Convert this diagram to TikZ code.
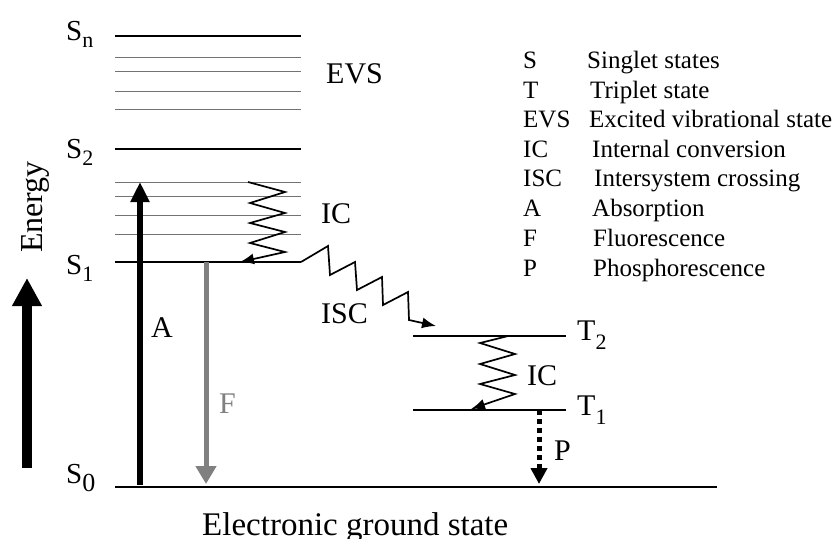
\documentclass[tikz,border=0pt]{standalone}
\usepackage{fontspec}
\setmainfont{Liberation Serif}
\usetikzlibrary{arrows.meta}
\newcommand\mysub[2]{\raisebox{-#2}{\fontsize{22}{22}\selectfont #1}}
\begin{document}
\begin{tikzpicture}[x=1pt,y=-1pt,
  lvl/.style={line width=1.7pt,black},
  sublvl/.style={line width=1pt,black!55},
  lbl/.style={inner sep=0pt,anchor=base west,font=\fontsize{30}{36}\selectfont},
  slbl/.style={inner sep=0pt,anchor=base west,font=\fontsize{29}{34}\selectfont},
  leg/.style={inner sep=0pt,anchor=base west,font=\fontsize{25}{30}\selectfont},
  zig/.style={line width=1.7pt,line join=miter,-{Latex[length=14pt,width=11pt]}},
]
\useasboundingbox (0,0) rectangle (834,538);

% ---- singlet levels
\draw[lvl] (115,36) -- (301,36);
\foreach \y in {57,71,91,109,182,196,215,234}
  \draw[sublvl] (115,\y) -- (301,\y);
\draw[lvl] (115,149) -- (301,149);
\coordinate (s1L) at (115,262);
\coordinate (s1R) at (301,262);
\draw[lvl] (s1L) -- (s1R);
\draw[lvl] (115,487) -- (717,487);
% ---- triplet levels
\draw[lvl] (413,336) -- (566,336);
\draw[lvl] (413,410) -- (566,410);

% ---- level labels
\node[slbl] (Sn) at (66,40) {S\mysub{n}{7pt}};
\node[slbl] (S2) at (66,158) {S\mysub{2}{7pt}};
\node[slbl] (S1) at (66,274) {S\mysub{1}{7pt}};
\node[slbl] (S0) at (66,483) {S\raisebox{-8pt}{\fontsize{26}{26}\selectfont 0}};
\node[lbl] (T2) at (577,340) {T\mysub{2}{9pt}};
\node[lbl] (T1) at (577,415) {T\mysub{1}{9pt}};

% ---- process labels
\node[lbl] (evs) at (326,83) {EVS};
\node[lbl] (ic1) at (321,223) {IC};
\node[lbl] (isc) at (321,323) {ISC};
\node[lbl] (A) at (151,337) {A};
\node[lbl,text=black!50] (F) at (219,413) {F};
\node[lbl] (ic2) at (527,385) {IC};
\node[lbl] (P) at (554,460) {P};
\node[inner sep=0pt,anchor=base west,font=\fontsize{33}{38}\selectfont] (egs) at (202,535) {Electronic ground state};
\node[inner sep=0pt,anchor=base,rotate=90,font=\fontsize{32}{38}\selectfont] (energy) at (42,207) {Energy};

% ---- energy arrow
\coordinate (eTail) at (27,468);
\coordinate (eTip) at (27,278);
\draw[line width=10pt,-{Triangle[length=28pt,width=28pt]}] (eTail) -- (eTip);

% ---- absorption
\coordinate (aTail) at (140,485);
\coordinate (aTip) at (140,182);
\draw[line width=6pt,-{Triangle[length=20pt,width=18pt]}] (aTail) -- (aTip);

% ---- fluorescence
\coordinate (fTail) at (206,262);
\coordinate (fTip) at (206,484);
\draw[line width=5pt,black!50,-{Triangle[length=18pt,width=20pt]}] (fTail) -- (fTip);

% ---- phosphorescence
\coordinate (pTail) at (539,410);
\coordinate (pTip) at (539,484);
\draw[line width=5pt,dash pattern=on 5pt off 4pt,-{Triangle[length=16pt,width=16pt]}] (pTail) -- (pTip);

% ---- internal conversion (singlet)
\coordinate (ic1s) at (248,182);
\coordinate (ic1e) at (240,262);
\draw[zig] (ic1s) -- (285,192) -- (250,203) -- (285,213) -- (250,223)
  -- (285,232) -- (250,243) -- (285,252) -- (ic1e);

% ---- intersystem crossing
\coordinate (iscE) at (436,326);
\draw[zig] (s1R) -- (328,246) -- (330,275) -- (355,262) -- (357,290)
  -- (382,277) -- (383,305) -- (408,292) -- (409,320) -- (iscE);

% ---- internal conversion (triplet)
\coordinate (ic2s) at (508,336);
\coordinate (ic2e) at (471,409);
\draw[zig] (ic2s) -- (480,343) -- (515,354) -- (480,364) -- (515,375)
  -- (480,384) -- (515,394) -- (ic2e);

% ---- legend
\node[leg] (l1a) at (523,68) {S};      \node[leg] (l1b) at (587,68) {Singlet states};
\node[leg] (l2a) at (523,98) {T};      \node[leg] (l2b) at (590,98) {Triplet state};
\node[leg] (l3a) at (523,127) {EVS};   \node[leg] (l3b) at (589,127) {Excited vibrational state};
\node[leg] (l4a) at (523,157) {IC};    \node[leg] (l4b) at (592,157) {Internal conversion};
\node[leg] (l5a) at (523,186) {ISC};   \node[leg] (l5b) at (594,186) {Intersystem crossing};
\node[leg] (l6a) at (523,216) {A};     \node[leg] (l6b) at (592,216) {Absorption};
\node[leg] (l7a) at (523,246) {F};     \node[leg] (l7b) at (593,246) {Fluorescence};
\node[leg] (l8a) at (523,276) {P};     \node[leg] (l8b) at (593,276) {Phosphorescence};
\end{tikzpicture}
\end{document}
